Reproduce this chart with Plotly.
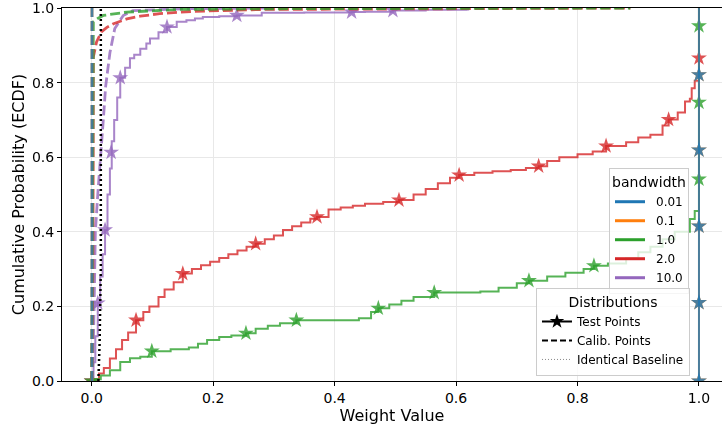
import plotly.graph_objects as go

# ---------------- data ----------------
bandwidths = ["0.01", "0.1", "1.0", "2.0", "10.0"]
palette = ["#1f77b4", "#ff7f0e", "#2ca02c", "#d62728", "#9467bd"]

x_ticks = [0.0, 0.2, 0.4, 0.6, 0.8, 1.0]
y_ticks = [0.0, 0.2, 0.4, 0.6, 0.8, 1.0]

# bandwidth 0.01 (test weights all at 1, calib weights all ~0)
test_x_001 = [1.0, 1.0]
test_y_001 = [0.0, 1.0]
star_x_001 = [1.0, 1.0, 1.0, 1.0, 1.0]
star_y_001 = [0.0, 0.21, 0.415, 0.619, 0.821]
calib_x_001 = [0.0005, 0.0005]
calib_y_001 = [0.0, 1.0]

# bandwidth 0.1 (coincides with 0.01)
test_x_01 = [1.0, 1.0]
test_y_01 = [0.0, 1.0]
star_x_01 = [1.0, 1.0, 1.0, 1.0, 1.0]
star_y_01 = [0.0, 0.21, 0.415, 0.619, 0.821]
calib_x_01 = [0.0005, 0.0005]
calib_y_01 = [0.0, 1.0]

# bandwidth 1.0
test_x_1 = [0.0, 0.005, 0.015, 0.03, 0.047, 0.063, 0.08, 0.099, 0.13, 0.16, 0.175, 0.19,
            0.21, 0.23, 0.254, 0.27, 0.29, 0.31, 0.337, 0.37, 0.40, 0.44, 0.46, 0.472,
            0.49, 0.51, 0.53, 0.564, 0.60, 0.64, 0.67, 0.70, 0.72, 0.75, 0.78, 0.81,
            0.827, 0.85, 0.88, 0.90, 0.92, 0.94, 0.96, 0.985, 0.993, 1.0, 1.0]
test_y_1 = [0.0, 0.005, 0.015, 0.029, 0.051, 0.061, 0.065, 0.08, 0.085, 0.09, 0.10, 0.11,
            0.118, 0.122, 0.128, 0.14, 0.148, 0.155, 0.163, 0.163, 0.163, 0.168, 0.185, 0.195,
            0.205, 0.215, 0.225, 0.237, 0.237, 0.24, 0.25, 0.262, 0.269, 0.28, 0.29, 0.30,
            0.309, 0.315, 0.33, 0.345, 0.36, 0.38, 0.40, 0.434, 0.456, 0.46, 1.0]
star_x_1 = [0.0, 0.099, 0.254, 0.337, 0.472, 0.564, 0.72, 0.827, 1.0, 1.0, 1.0]
star_y_1 = [0.0, 0.08, 0.128, 0.163, 0.195, 0.237, 0.269, 0.309, 0.541, 0.747, 0.952]
calib_x_1 = [0.0, 0.001, 0.0027, 0.01, 0.019, 0.058, 0.14, 0.30, 0.60, 0.887]
calib_y_1 = [0.0, 0.50, 0.963, 0.972, 0.98, 0.989, 0.996, 0.998, 0.999, 1.0]

# bandwidth 2.0
test_x_2 = [0.0, 0.005, 0.012, 0.02, 0.03, 0.04, 0.05, 0.06, 0.073, 0.085, 0.095, 0.11,
            0.12, 0.135, 0.15, 0.165, 0.18, 0.195, 0.21, 0.225, 0.24, 0.255, 0.27, 0.285,
            0.30, 0.315, 0.33, 0.345, 0.36, 0.371, 0.39, 0.41, 0.43, 0.45, 0.48, 0.506,
            0.53, 0.55, 0.57, 0.59, 0.605, 0.63, 0.66, 0.69, 0.715, 0.736, 0.75, 0.77,
            0.80, 0.825, 0.847, 0.88, 0.90, 0.92, 0.94, 0.95, 0.965, 0.977, 0.985, 0.988,
            0.993, 1.0, 1.0]
test_y_2 = [0.0, 0.005, 0.02, 0.035, 0.06, 0.085, 0.11, 0.13, 0.163, 0.185, 0.20, 0.225,
            0.245, 0.265, 0.288, 0.30, 0.31, 0.32, 0.33, 0.34, 0.35, 0.36, 0.368, 0.38,
            0.39, 0.405, 0.415, 0.425, 0.435, 0.44, 0.46, 0.465, 0.47, 0.475, 0.48, 0.485,
            0.50, 0.515, 0.53, 0.545, 0.552, 0.558, 0.562, 0.566, 0.571, 0.576, 0.59, 0.60,
            0.608, 0.615, 0.63, 0.64, 0.653, 0.66, 0.685, 0.701, 0.72, 0.749, 0.757, 0.785,
            0.805, 0.81, 1.0]
star_x_2 = [0.0, 0.073, 0.15, 0.27, 0.371, 0.506, 0.605, 0.736, 0.847, 0.95, 1.0]
star_y_2 = [0.0, 0.163, 0.288, 0.368, 0.44, 0.485, 0.552, 0.576, 0.63, 0.701, 0.866]
calib_x_2 = [0.0, 0.002, 0.0025, 0.0027, 0.008, 0.016, 0.025, 0.036, 0.058, 0.08, 0.112,
             0.167, 0.277, 0.40, 0.60, 0.887]
calib_y_2 = [0.0, 0.30, 0.60, 0.869, 0.909, 0.936, 0.948, 0.958, 0.971, 0.978, 0.985,
             0.991, 0.996, 0.997, 0.998, 1.0]

# bandwidth 10.0
test_x_10 = [0.0, 0.003, 0.006, 0.01, 0.014, 0.018, 0.022, 0.026, 0.03, 0.033, 0.037, 0.042,
             0.047, 0.055, 0.063, 0.07, 0.08, 0.09, 0.096, 0.11, 0.124, 0.14, 0.156, 0.17,
             0.183, 0.21, 0.239, 0.28, 0.28, 0.35, 0.428, 0.45, 0.496, 0.55, 0.617, 0.62]
test_y_10 = [0.0, 0.05, 0.12, 0.209, 0.28, 0.34, 0.405, 0.50, 0.57, 0.643, 0.70, 0.76,
             0.813, 0.84, 0.865, 0.875, 0.891, 0.905, 0.918, 0.935, 0.949, 0.963, 0.967, 0.972,
             0.976, 0.978, 0.98, 0.98, 0.987, 0.988, 0.989, 0.99, 0.993, 0.995, 0.996, 1.0]
star_x_10 = [0.0, 0.01, 0.022, 0.032, 0.047, 0.124, 0.239, 0.428, 0.496]
star_y_10 = [0.0, 0.209, 0.405, 0.613, 0.813, 0.949, 0.98, 0.989, 0.993]
calib_x_10 = [0.0, 0.002, 0.004, 0.006, 0.01, 0.016, 0.02, 0.023, 0.03, 0.038, 0.052,
              0.068, 0.15, 0.30]
calib_y_10 = [0.0, 0.05, 0.20, 0.40, 0.50, 0.62, 0.72, 0.79, 0.88, 0.945, 0.98,
              0.993, 0.998, 1.0]

# identical-weights baseline
base_x = [0.011, 0.013, 0.015, 0.015, 0.015]
base_y = [0.0, 0.10, 0.30, 0.70, 1.0]

test_x = [test_x_001, test_x_01, test_x_1, test_x_2, test_x_10]
test_y = [test_y_001, test_y_01, test_y_1, test_y_2, test_y_10]
star_x = [star_x_001, star_x_01, star_x_1, star_x_2, star_x_10]
star_y = [star_y_001, star_y_01, star_y_1, star_y_2, star_y_10]
calib_x = [calib_x_001, calib_x_01, calib_x_1, calib_x_2, calib_x_10]
calib_y = [calib_y_001, calib_y_01, calib_y_1, calib_y_2, calib_y_10]

# ---------------- figure ----------------
FONT = "DejaVu Sans"
fig = go.Figure()

order = list(range(len(bandwidths)))[::-1]  # first hue level drawn on top

for i in order:
    c = palette[i]
    fig.add_trace(go.Scatter(x=test_x[i], y=test_y[i], mode="lines", line_shape="hv",
                             line=dict(color=c, width=2), opacity=0.8,
                             showlegend=False, hoverinfo="skip"))
    fig.add_trace(go.Scatter(x=star_x[i], y=star_y[i], mode="markers",
                             marker=dict(symbol="star", size=12, color=c, line=dict(width=0)),
                             opacity=0.8, showlegend=False, hoverinfo="skip"))

for i in order:
    c = palette[i]
    fig.add_trace(go.Scatter(x=calib_x[i], y=calib_y[i], mode="lines",
                             line=dict(color=c, width=2.8, dash="10px,4px"), opacity=0.8,
                             showlegend=False, hoverinfo="skip"))

fig.add_trace(go.Scatter(x=base_x, y=base_y, mode="lines",
                         line=dict(color="black", width=2.5, dash="2px,3px"),
                         showlegend=False, hoverinfo="skip"))

# legend 1: bandwidth
for i, bw in enumerate(bandwidths):
    fig.add_trace(go.Scatter(x=[None], y=[None], mode="lines", name="\u2002" + bw,
                             line=dict(color=palette[i], width=3), legend="legend"))

# legend 2: distributions
fig.add_trace(go.Scatter(x=[None], y=[None], mode="lines+markers", name="Test Points",
                         line=dict(color="black", width=2),
                         marker=dict(symbol="star", size=11, color="black"),
                         legend="legend2"))
fig.add_trace(go.Scatter(x=[None], y=[None], mode="lines", name="Calib. Points",
                         line=dict(color="black", width=2, dash="6px,3px"),
                         legend="legend2"))
fig.add_trace(go.Scatter(x=[None], y=[None], mode="lines", name="Identical Baseline",
                         line=dict(color="#888888", width=1, dash="1px,2px"),
                         legend="legend2"))

axis_common = dict(
    showline=True, linecolor="black", linewidth=1,
    ticks="outside", ticklen=4, tickwidth=1, tickcolor="black",
    showgrid=True, gridcolor="#e8e8e8", gridwidth=1,
    zeroline=False, tickfont=dict(family=FONT, size=14, color="black"),
    ticklabeloverflow="allow",
)

fig.update_layout(
    width=722, height=425,
    margin=dict(l=62, r=0, t=6, b=44),
    paper_bgcolor="white", plot_bgcolor="white",
    font=dict(family=FONT, color="black"),
    xaxis=dict(range=[-0.0489, 1.0379], tickvals=x_ticks,
               ticktext=[f"{v:.1f}" for v in x_ticks], mirror=True,
               title=dict(text="Weight Value", font=dict(family=FONT, size=16), standoff=3),
               **axis_common),
    yaxis=dict(range=[0, 1], tickvals=y_ticks,
               ticktext=[f"{v:.1f}" for v in y_ticks], mirror=False,
               title=dict(text="Cumulative Probability (ECDF)", font=dict(family=FONT, size=16),
                          standoff=3),
               **axis_common),
    legend=dict(x=0.95, xanchor="right", y=0.571, yanchor="top",
                bgcolor="rgba(255,255,255,0.8)", bordercolor="#cccccc", borderwidth=1,
                font=dict(family=FONT, size=12),
                title=dict(text="bandwidth", font=dict(family=FONT, size=14), side="top center"),
                itemwidth=30, tracegroupgap=0),
    legend2=dict(x=0.9515, xanchor="right", y=0.25, yanchor="top",
                 bgcolor="rgba(255,255,255,0.8)", bordercolor="#cccccc", borderwidth=1,
                 font=dict(family=FONT, size=12),
                 title=dict(text="Distributions", font=dict(family=FONT, size=14),
                            side="top center"),
                 itemwidth=30, tracegroupgap=0),
)

fig.write_html(
    "out.html",
    config={"displayModeBar": False},
    post_script="document.documentElement.style.margin='0';"
                "document.body.style.margin='0';document.body.style.overflow='hidden';",
)
